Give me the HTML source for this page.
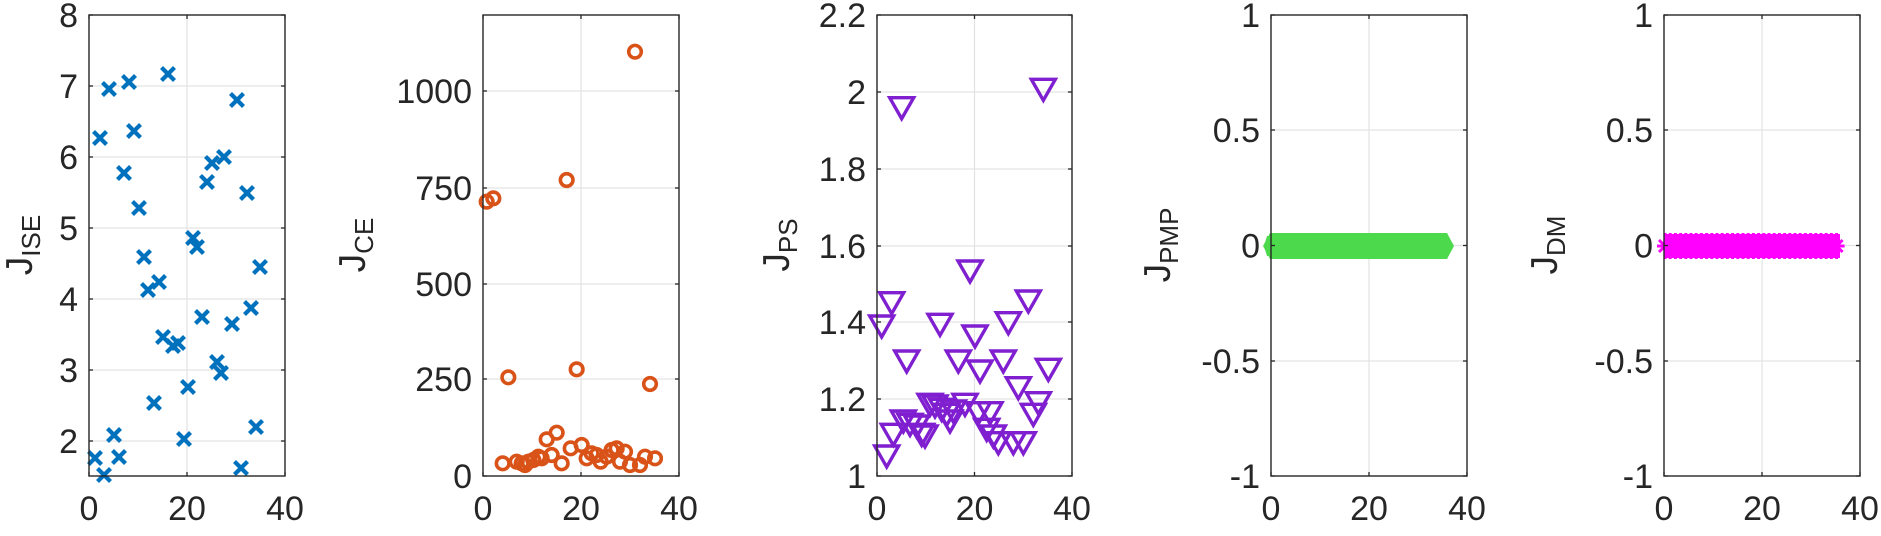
<!DOCTYPE html>
<html><head><meta charset="utf-8"><style>
html,body{margin:0;padding:0;background:#fff;}
svg{display:block;}
text{font-family:"Liberation Sans",Arial,sans-serif;fill:#262626;}
</style></head><body>
<svg id="s" width="1881" height="536" viewBox="0 0 1881 536" xmlns="http://www.w3.org/2000/svg"></svg>
<script>
const s=document.getElementById('s');let h='';
const T=15,B=476;
const axes=[
 {L:89,R:285,ticks:[[8,15],[7,86],[6,157],[5,228],[4,299],[3,370],[2,441]],lab:'J',sub:'ISE',lx:20},
 {L:483,R:679,ticks:[[1000,91],[750,188],[500,284],[250,379],[0,476]],lab:'J',sub:'CE',lx:353},
 {L:877,R:1072,ticks:[['2.2',15],['2',92],['1.8',169],['1.6',246],['1.4',322],['1.2',399],['1',476]],lab:'J',sub:'PS',lx:777},
 {L:1271,R:1467,ticks:[['1',15],['0.5',130],['0',245.5],['-0.5',361],['-1',476]],lab:'J',sub:'PMP',lx:1158},
 {L:1664,R:1860,ticks:[['1',15],['0.5',130],['0',245.5],['-0.5',361],['-1',476]],lab:'J',sub:'DM',lx:1545},
];
for(const a of axes){
 const mid=(a.L+a.R)/2;
 for(const [v,y] of a.ticks){ if(y>T+1&&y<B-1) h+=`<line x1="${a.L}" x2="${a.R}" y1="${y}" y2="${y}" stroke="#e3e3e3" stroke-width="1.2"/>`;}
 h+=`<line x1="${mid}" x2="${mid}" y1="${T}" y2="${B}" stroke="#e3e3e3" stroke-width="1.2"/>`;
}
const blue=[[95,458],[104,475],[100,138],[109,89],[114,435],[119,457],[124,173],[129,82],[134,131],[139,208],[144,257],[148,290],[154,403],[159,282],[163,337],[168,74],[173,346],[178,343],[184,439],[188,387],[193,238],[197,247],[202,317],[207,182],[212,163],[217,362],[221,373],[224,157],[232,324],[237,100],[241,468],[247,193],[251,308],[256,427],[260,267]];
for(const [x,y] of blue){h+=`<path d="M${x-6.5},${y-6.5}L${x+6.5},${y+6.5}M${x-6.5},${y+6.5}L${x+6.5},${y-6.5}" stroke="#0072BD" stroke-width="4.2"/>`;}
const orz=[[500,605],[520,595],[548,1390],[565,1132],[590,1385],[605,1390],[615,1395],[625,1385],[640,1380],[655,1370],[665,1375],[680,1318],[695,1365],[710,1298],[725,1390],[740,540],[752,1345],[770,1108],[785,1335],[800,1375],[815,1360],[830,1365],[842,1385],[860,1370],[875,1350],[890,1345],[900,1385],[915,1355],[930,1395],[945,155],[960,1395],[975,1370],[990,1152],[1005,1375]];
for(const [zx,zy] of orz){const x=zx/3+320,y=zy/3;h+=`<circle cx="${x}" cy="${y}" r="6.3" fill="none" stroke="#D95319" stroke-width="3.6"/>`;}
const tri=[[485,975],[500,1365],[515,905],[520,1300],[545,320],[560,1080],[550,1260],[570,1270],[590,1275],[605,1300],[615,1305],[630,1210],[645,1215],[660,970],[665,1225],[680,1240],[690,1260],[700,1230],[715,1080],[735,1210],[750,810],[765,1005],[775,1235],[780,1110],[800,1285],[810,1235],[820,1305],[835,1325],[850,1080],[865,965],[880,1325],[895,1160],[910,1325],[925,900],[940,1240],[955,1205],[970,265],[985,1105]];
for(const [zx,zy] of tri){const x=zx/3+720,y=zy/3;h+=`<path d="M${x-12},${y-9}L${x+12},${y-9}L${x},${y+12}Z" fill="none" stroke="#7F1FD0" stroke-width="3.4" stroke-linejoin="miter"/>`;}
h+=`<path d="M1263,246L1270,233L1447,233L1454,246L1447,259L1270,259Z" fill="#4CD94C"/>`;
for(let i=0;i<34;i++){const x=1271+i*5.2;h+=`<path d="M${x-7},${246}L${x-4},${236}L${x+4},${236}L${x+7},246L${x+4},256L${x-4},256Z" fill="#4CD94C"/>`;}
h+=`<rect x="1664" y="234" width="176" height="24" fill="#FF00FF"/>`;
for(let i=0;i<34;i++){const x=1665+i*5.2;h+=`<path d="M${x-6},${240}L${x+6},${252}M${x-6},252L${x+6},240M${x-8},246L${x+8},246M${x},${233}L${x},259" stroke="#FF00FF" stroke-width="3"/>`;}
for(const a of axes){
 const mid=(a.L+a.R)/2;
 h+=`<rect x="${a.L}" y="${T}" width="${a.R-a.L}" height="${B-T}" fill="none" stroke="#262626" stroke-width="1.4"/>`;
 for(const [v,y] of a.ticks){
  h+=`<line x1="${a.L}" x2="${a.L+4}" y1="${y}" y2="${y}" stroke="#262626" stroke-width="1.3"/><line x1="${a.R-4}" x2="${a.R}" y1="${y}" y2="${y}" stroke="#262626" stroke-width="1.3"/>`;
  h+=`<text x="${a.L-11}" y="${y+12}" font-size="34" text-anchor="end">${v}</text>`;
 }
 for(const [v,x] of [[0,a.L],[20,mid],[40,a.R]]){
  h+=`<line x1="${x}" x2="${x}" y1="${B-4}" y2="${B}" stroke="#262626" stroke-width="1.3"/><line x1="${x}" x2="${x}" y1="${T}" y2="${T+4}" stroke="#262626" stroke-width="1.3"/>`;
  h+=`<text x="${x}" y="520" font-size="34" text-anchor="middle">${v}</text>`;
 }
 h+=`<text transform="translate(${a.lx+12},245) rotate(-90)" font-size="37" text-anchor="middle">${a.lab}<tspan font-size="26" dy="8">${a.sub}</tspan></text>`;
}
s.innerHTML=h;
</script>
</body></html>
